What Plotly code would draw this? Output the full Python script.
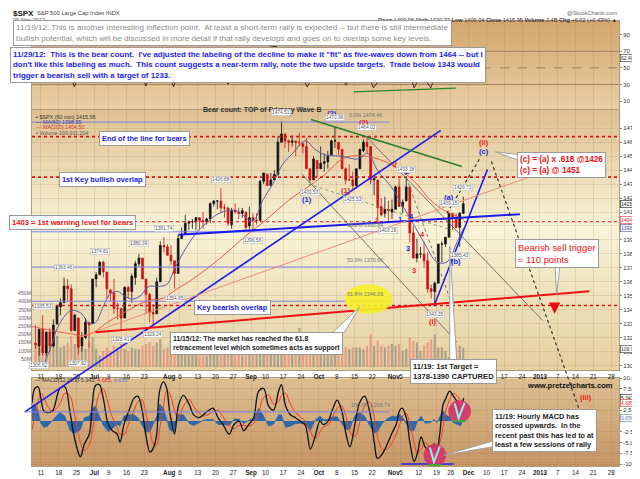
import numpy as np
import pandas as pd
import plotly.graph_objects as go

FONT = "Liberation Sans, Arial, sans-serif"

# trading calendar: the hourly chart only spaces out trading sessions
HOLIDAYS = ["2012-07-04", "2012-09-03", "2012-10-29", "2012-10-30", "2012-11-22"]
SESSIONS = pd.bdate_range("2012-06-01", "2013-02-15", freq="C", holidays=HOLIDAYS)
BASE = SESSIONS.get_loc(pd.Timestamp("2012-06-11"))


def when(d):
    """trading days after 11 Jun 2012 (fractional) -> timestamp"""
    i = int(np.floor(d))
    return SESSIONS[BASE + i] + pd.Timedelta(days=float(d - i))


DAYS = SESSIONS[(SESSIONS >= "2012-06-07") & (SESSIONS <= "2012-11-29")]

# ---- $SPX, one bar per session (Jun 7 .. Nov 29, 2012) ----
OPEN = [1316, 1314, 1326, 1309, 1324, 1314, 1330, 1342, 1345, 1357, 1355, 1325, 1334, 1314, 1320, 1331, 1330,
        1362, 1365, 1374, 1367, 1354, 1352, 1341, 1341, 1334, 1356, 1353, 1363, 1373, 1377, 1362, 1351, 1338, 1337, 1360, 1386, 1385,
        1379, 1375, 1366, 1391, 1394, 1402, 1403, 1403, 1406, 1404, 1403, 1405, 1416, 1418, 1418, 1413, 1413, 1401, 1411, 1410, 1409, 1410, 1400,
        1406, 1404, 1404, 1432, 1437, 1429, 1433, 1437, 1460, 1466, 1461, 1460, 1461, 1460, 1459, 1457, 1441, 1433, 1447,
        1441, 1445, 1446, 1451, 1461, 1460, 1455, 1441, 1433, 1433, 1429, 1441, 1454, 1460, 1457, 1433, 1433, 1414, 1409, 1412, 1410,
        1412, 1428, 1414, 1418, 1428, 1395, 1377, 1380, 1380, 1375, 1355, 1353, 1359, 1387, 1387, 1392, 1409, 1406, 1399, 1409]
HIGH = [1329, 1326, 1336, 1324, 1327, 1333, 1343, 1348, 1363, 1362, 1358, 1337, 1334, 1324, 1334, 1331, 1362,
        1367, 1375, 1375, 1367, 1355, 1362, 1345, 1341, 1357, 1357, 1366, 1375, 1380, 1377, 1362, 1352, 1344, 1363, 1389, 1392, 1387,
        1386, 1375, 1394, 1399, 1408, 1404, 1405, 1406, 1406, 1410, 1406, 1417, 1418, 1418, 1427, 1416, 1413, 1413, 1416, 1413, 1413, 1410, 1414,
        1409, 1409, 1433, 1438, 1438, 1438, 1440, 1464, 1475, 1466, 1462, 1465, 1461, 1467, 1460, 1463, 1441, 1450, 1447,
        1457, 1452, 1454, 1462, 1471, 1460, 1455, 1442, 1444, 1439, 1441, 1455, 1462, 1464, 1457, 1435, 1433, 1420, 1421, 1418, 1419,
        1429, 1434, 1419, 1434, 1428, 1400, 1391, 1385, 1389, 1381, 1358, 1360, 1387, 1389, 1392, 1409, 1409, 1409, 1410, 1421]
LOW = [1312, 1307, 1307, 1307, 1310, 1313, 1329, 1336, 1345, 1346, 1324, 1325, 1308, 1310, 1319, 1313, 1330,
       1356, 1365, 1363, 1348, 1346, 1337, 1333, 1325, 1334, 1348, 1345, 1358, 1371, 1362, 1337, 1331, 1329, 1337, 1360, 1381, 1379,
       1372, 1355, 1366, 1391, 1394, 1397, 1398, 1397, 1397, 1398, 1401, 1402, 1414, 1412, 1409, 1406, 1400, 1398, 1409, 1405, 1406, 1397, 1398,
       1397, 1401, 1404, 1430, 1429, 1429, 1433, 1436, 1460, 1456, 1453, 1457, 1450, 1457, 1452, 1441, 1431, 1433, 1435,
       1441, 1439, 1441, 1451, 1456, 1451, 1441, 1430, 1433, 1426, 1427, 1441, 1453, 1452, 1430, 1422, 1403, 1407, 1406, 1403, 1405,
       1412, 1414, 1409, 1418, 1388, 1377, 1374, 1377, 1370, 1352, 1348, 1343, 1359, 1374, 1385, 1392, 1397, 1398, 1385, 1409]
CLOSE = [1315, 1326, 1309, 1324, 1314, 1329, 1343, 1345, 1357, 1355, 1325, 1336, 1313, 1320, 1331, 1329, 1362,
         1365, 1374, 1367, 1355, 1352, 1341, 1341, 1334, 1356, 1353, 1364, 1373, 1377, 1362, 1351, 1338, 1337, 1360, 1386, 1385, 1379,
         1375, 1366, 1391, 1394, 1402, 1403, 1403, 1406, 1404, 1403, 1405, 1416, 1418, 1418, 1413, 1413, 1402, 1411, 1410, 1409, 1411, 1399, 1406,
         1404, 1404, 1432, 1438, 1429, 1433, 1437, 1460, 1466, 1461, 1460, 1461, 1460, 1460, 1457, 1441, 1433, 1448, 1441,
         1445, 1446, 1450, 1461, 1461, 1455, 1441, 1433, 1433, 1429, 1441, 1455, 1460, 1457, 1433, 1434, 1413, 1408, 1412, 1411, 1412,
         1428, 1414, 1417, 1428, 1395, 1377, 1380, 1380, 1375, 1355, 1353, 1359, 1387, 1387, 1392, 1409, 1406, 1399, 1409, 1416]
VOLUME_M = [140, 120, 130, 120, 140, 150, 190, 120, 130, 150, 190, 140, 130, 120, 110, 150, 180,
            110, 70, 100, 120, 100, 130, 120, 140, 110, 100, 120, 110, 110, 130, 140, 150, 130, 150, 170, 110, 120,
            130, 140, 150, 90, 100, 90, 80, 80, 70, 90, 70, 90, 100, 80, 110, 100, 110, 80, 70, 80, 70, 90, 100,
            110, 110, 150, 130, 110, 110, 120, 180, 190, 110, 120, 130, 110, 240, 100, 140, 130, 120, 130,
            120, 110, 120, 110, 120, 80, 110, 120, 110, 120, 120, 120, 110, 130, 200, 130, 160, 130, 120, 130, 140,
            130, 140, 100, 110, 180, 160, 150, 100, 130, 150, 170, 200, 120, 120, 100, 60, 110, 120, 130, 120]

# moving averages (x = trading days after Jun 11)
MA60_DAY = [-2.5, 0, 2.8, 4.7, 8.3, 11.1, 13.6, 15.3, 17.8, 19.4, 21.4, 23.6, 25.6, 27.8, 30.3, 32.5, 35.3, 37.5,
            40, 43.6, 46.4, 50, 54.7, 59.4, 62.2, 65, 67.8, 70.6, 74.2, 76.9, 79.7, 84.4, 88.9, 91.7, 94.4, 98.3,
            101.1, 103.9, 107.5, 111.1, 113.9, 116.7, 118.6]
MA60 = [1302, 1299.3, 1313.3, 1327.3, 1339.2, 1337.8, 1330.1, 1330.8, 1344.1, 1351.1, 1353.2, 1349.7, 1347.6, 1349.7,
        1356.7, 1356.7, 1358.1, 1369.3, 1381.2, 1395.1, 1402.1, 1409.1, 1411.2, 1403.5, 1418.2, 1430.0, 1444.1,
        1452.0, 1461.0, 1455.0, 1451.0, 1450.0, 1448.0, 1452.0, 1440.0, 1428.0, 1416.1, 1404.2, 1388.1, 1374.2,
        1374.2, 1388.1, 1398.55]
MA200_DAY = [-2.5, 0, 7.5, 13.1, 18.6, 24.2, 29.7, 34.4, 37.2, 42.8, 50, 57.5, 63.1, 69.4, 76.1, 79.7, 85.3, 91.7,
             98.3, 104.7, 109.4, 113.1, 116.7, 118.6]
MA200 = [1328, 1326.6, 1323.1, 1321.7, 1330.8, 1339.2, 1346.2, 1348.3, 1353.2, 1362.3, 1376.3, 1393.0, 1404.2,
         1418.2, 1430.1, 1437.1, 1449.0, 1449.7, 1444.1, 1432.2, 1418.2, 1411.2, 1407.0, 1404.5]

# RSI (top panel, mostly hidden by the notes)
RSI_DAY = [-2.5, 2, 6, 9.4, 11.5, 15, 19, 24, 27, 29.4, 31.5, 34, 37.2, 39.5, 44, 49, 52.5, 55, 60, 66, 71, 74.7,
           77, 81, 85.6, 87.5, 90, 93.3, 95.5, 99, 102, 104.7, 106.5, 108, 109.4, 111.5, 113, 115, 117, 118.6]
RSI = [48, 62, 66, 27, 50, 70, 50, 62, 66, 28, 48, 68, 27, 58, 62, 66, 30, 52, 72, 76, 58, 27,
       45, 66, 29, 46, 62, 26, 38, 55, 62, 26, 40, 34, 26, 50, 72, 70, 50, 62.4]

# MACD(12,26,9) hourly
MACD_DAY = [-2.5, -1.7, -0.8, 0, 0.8, 1.9, 3.3, 5.3, 6.7, 8.1, 9.2, 10.3, 11.1, 12.2, 13.6, 14.4, 15.3, 16.4, 17.5,
            18.9, 20, 21.4, 22.2, 23.3, 24.7, 26.1, 27.2, 28.3, 29.4, 30.6, 31.7, 32.5, 33.3, 34.4, 35.3, 36.1, 37.5,
            38.6, 40, 41.7, 42.8, 44.2, 45.6, 46.9, 48.3, 49.7, 51.1, 52.8, 54.2, 55.6, 56.9, 58.3, 59.7, 61.1, 62.5,
            63.9, 65.3, 66.7, 67.5, 68.6, 70, 71.4, 72.8, 74.2, 75.6, 76.9, 78.3, 79.2, 80.6, 81.7, 83.1, 84.4, 85.6,
            86.7, 88.1, 89.4, 90.8, 92.2, 93.6, 94.4, 95.8, 97.2, 98.6, 99.7, 100.6, 101.4, 102.5, 103.6, 104.7, 105.6,
            106.7, 107.8, 109.2, 110.3, 111.1, 111.9, 112.8, 113.6, 114.7, 115.6, 116.7, 117.8, 118.6]
MACD = [4.2, 7.6, 8.0, 5.3, 2.4, 2.0, 2.4, 7.6, 8.0, 2.4, -3.0, -6.8, -8.3, -5.3, -3.0, 3.7, 8.3, 8.5, 5.3,
        -0.8, -2.2, -3.0, -4.9, -0.8, 2.4, 5.3, 5.8, 3.0, -3.0, -7.2, -6.0, -3.0, 7.0, 9.2, 7.6, 2.4, -3.0,
        3.7, 6.0, 3.7, 1.5, 0.8, 1.5, 2.4, 3.0, 0.8, -0.8, -3.0, -0.8, 0.0, -2.2, -0.8, 0.8, 7.0, 7.6,
        3.5, 2.6, 7.0, 8.5, 3.7, 1.5, 0.8, 0.0, -1.0, -6.5, -3.7, 0.0, -0.8, 0.0, 2.4, 4.9, 2.4, -3.0,
        -6.0, -0.8, 4.2, 5.8, 2.4, -5.3, -8.7, -7.6, -5.3, -2.6, -0.8, 2.4, 3.0, 0.8, -5.3, -9.4, -7.6,
        -3.7, -6.0, -6.8, -5.3, -6.8, -3.0, 3.7, 5.3, 7.0, 6.0, 4.6, 2.6, 5.341]
SIGNAL = [-2.0, 1.0, 4.5, 6.5, 5.5, 3.5, 2.3, 4.0, 6.5, 6.0, 2.5, -2.0, -5.0, -6.8, -5.5, -2.5, 2.5, 6.5, 7.5,
          4.0, 1.0, -1.5, -3.0, -3.2, -0.5, 2.5, 4.5, 5.0, 2.0, -2.5, -5.5, -5.5, -2.0, 3.5, 7.0, 6.5, 2.5,
          0.5, 3.5, 5.0, 3.5, 2.0, 1.2, 1.5, 2.2, 2.5, 1.0, -1.0, -1.8, -1.0, -1.0, -1.2, -0.5, 2.0, 5.5,
          6.0, 4.0, 4.5, 6.0, 6.5, 4.0, 2.0, 1.0, 0.0, -2.5, -4.0, -2.5, -1.5, -0.8, 0.5, 3.0, 3.5, 1.0,
          -2.5, -3.5, -0.5, 3.5, 4.5, 0.5, -3.5, -6.5, -6.5, -5.0, -3.0, -1.0, 1.0, 1.8, -1.0, -5.0, -7.5,
          -6.5, -5.0, -6.0, -6.2, -6.0, -5.0, -1.5, 2.5, 5.0, 6.5, 6.0, 4.8, 4.685]
HIST = [3.5, 4.0, 2.5, -0.5, -1.5, -1.2, 0.2, 2.0, 1.2, -2.0, -3.0, -2.5, -2.0, 0.8, 1.2, 3.0, 3.5, 1.2, -1.0,
        -2.5, -1.8, -0.8, -1.2, 1.2, 1.5, 1.5, 0.8, -1.0, -2.5, -2.5, -0.3, 1.2, 4.0, 3.0, 0.5, -2.0, -2.5,
        1.5, 1.5, -0.6, -1.0, -0.5, 0.2, 0.4, 0.4, -0.8, -0.8, -1.0, 0.5, 0.5, -0.6, 0.2, 0.6, 3.0, 1.2,
        -1.2, -0.7, 1.5, 1.5, -1.5, -1.2, -0.6, -0.5, -0.6, -2.2, 0.2, 1.2, 0.4, 0.4, 1.0, 1.0, -0.5, -2.0,
        -1.8, 1.3, 2.0, 1.2, -1.0, -2.8, -2.5, -0.5, 0.6, 1.2, 1.0, 1.6, 1.0, -0.5, -2.2, -2.2, -0.1,
        1.2, -0.5, -0.4, 0.4, -0.4, 1.0, 2.5, 1.4, 1.0, -0.3, -0.7, -1.1, 0.656]

# bottom axis labels
TICK_DATES = ["2012-06-11", "2012-06-18", "2012-06-25", "2012-07-02", "2012-07-09", "2012-07-16", "2012-07-23",
              "2012-08-01", "2012-08-06", "2012-08-13", "2012-08-20", "2012-08-27", "2012-09-04", "2012-09-10",
              "2012-09-17", "2012-09-24", "2012-10-01", "2012-10-08", "2012-10-15", "2012-10-22", "2012-11-01",
              "2012-11-05", "2012-11-12", "2012-11-19", "2012-11-26", "2012-12-03", "2012-12-10", "2012-12-17",
              "2012-12-24", "2012-12-31", "2013-01-07", "2013-01-14", "2013-01-21", "2013-01-28"]
TICK_TEXT = ["11", "18", "25", "<b>Jul</b>", "9", "16", "23", "<b>Aug</b>", "6", "13", "20", "27", "<b>Sep</b>",
             "10", "17", "24", "<b>Oct</b>", "8", "15", "22", "<b>Nov</b>", "5", "12", "19", "26", "<b>Dec</b>",
             "10", "17", "24", "<b>2013</b>", "7", "14", "21", "28"]

# analyst levels / trendlines  ((day, price), (day, price))
RED_LEVELS = [1464, 1435, 1403, 1343]
FIB_LEVELS = [1474.46, 1395.84, 1370.60, 1346.09, 1266.74]
FIB_TEXT = ["0.0% 1474.46", "38.2% 1395.84", "50.0% 1370.60", "61.8% 1346.09", "100.0% 1266.74"]
TRENDS = [((-4.5, 1266.7), (112.2, 1468.6), "#1b1bf0", 1.6, "solid"),
          ((38.6, 1393.7), (134.4, 1408.4), "#1b1bf0", 2.0, "solid"),
          ((110.3, 1342.7), (125.3, 1440.6), "#1b1bf0", 1.5, "solid"),
          ((75.8, 1476.3), (118.1, 1442.7), "#2a7a2a", 1.5, "solid"),
          ((91.7, 1463.0), (140.8, 1332.2), "#555", 0.8, "solid"),
          ((73.3, 1437.1), (116.7, 1316.8), "#555", 0.8, "solid"),
          ((101.4, 1442.7), (115.0, 1346.2), "#555", 0.8, "dot"),
          ((75.0, 1430.1), (115.0, 1397.2), "#6f9a50", 0.9, "dot"),
          ((113.9, 1409.1), (123.3, 1449.0), "#222", 1.1, "dot"),
          ((126.4, 1446.2), (151.9, 1262.2), "#222", 1.1, "dot"),
          ((10.8, 1320.3), (140.8, 1438.5), "#f08a78", 1.0, "solid"),
          ((15.3, 1323.8), (153.9, 1353.2), "#ee1111", 2.0, "solid")]

BLUE_WAVES = [("(1)", 74.7, 1418.9), ("(2)", 81.7, 1480.5), ("1", 100.8, 1404.9), ("2", 102.8, 1439.2),
              ("3", 103.1, 1384.0), ("4", 103.9, 1407.0), ("(a)", 114.4, 1420.3), ("(b)", 116.4, 1374.9),
              ("(c)", 124.4, 1453.2)]
RED_WAVES = [("(2)", 90.6, 1474.2), ("(1)", 85.6, 1425.2), ("1", 94.2, 1404.2), ("2", 99.4, 1444.1),
             ("3", 104.7, 1367.9), ("4", 107.2, 1393.7), ("(ii)", 124.4, 1459.5), ("(i)", 110.0, 1331.5)]
PIVOTS = [("2012-06-08", 1306.62, -1), ("2012-06-11", 1335.52, 1), ("2012-06-19", 1363.46, 1),
          ("2012-06-25", 1307.92, -1), ("2012-07-03", 1374.81, 1), ("2012-07-12", 1325.41, -1),
          ("2012-07-19", 1380.39, 1), ("2012-07-25", 1329.24, -1), ("2012-07-30", 1391.74, 1),
          ("2012-08-02", 1354.65, -1), ("2012-08-21", 1426.68, 1), ("2012-09-04", 1396.56, -1),
          ("2012-09-14", 1474.51, 1), ("2012-09-26", 1430.53, -1), ("2012-10-05", 1470.96, 1),
          ("2012-10-12", 1425.53, -1), ("2012-10-18", 1464.02, 1), ("2012-10-26", 1403.28, -1),
          ("2012-11-06", 1433.38, 1), ("2012-11-16", 1343.35, -1), ("2012-11-23", 1409.15, 1),
          ("2012-11-28", 1385.43, -1), ("2012-11-29", 1420.73, 1)]

# ---------------- geometry ----------------
W, H = 640, 479
ML, MR, MT, MB = 24, 23, 13, 10


def fx(px):
    return (px - ML) / (W - ML - MR)


def fy(py):
    return (H - MB - py) / (H - MT - MB)


RSI_DOM = [fy(103), 1.0]
PRICE_DOM = [fy(371), fy(104)]
MACD_DOM = [0.0, fy(379)]
P0, P1 = 1300 - 5 / 1.4294, 1470 + 19 / 1.4294
R0, R1 = 10 - 8 / 0.85, 90 + 14 / 0.85
M0, M1 = -10.45, 10.0
D0, D1 = -2.5, 162.2


def xd(d):
    return (d - D0) / (D1 - D0)


def yp(p):
    return PRICE_DOM[0] + (p - P0) / (P1 - P0) * (PRICE_DOM[1] - PRICE_DOM[0])


xc = DAYS + pd.Timedelta(hours=12)
up = [c >= o for o, c in zip(OPEN, CLOSE)]

fig = go.Figure()
fig.add_trace(go.Bar(x=xc, y=VOLUME_M, xaxis="x2", yaxis="y2", width=0.6 * 86400000,
                     marker=dict(color=["rgba(110,110,110,0.5)" if u else "rgba(225,110,110,0.55)" for u in up],
                                 line_width=0), hoverinfo="skip"))
fig.add_trace(go.Scatter(x=[when(d) for d in MA200_DAY], y=MA200, xaxis="x2", yaxis="y3", mode="lines",
                         line=dict(color="#e85a4a", width=1, shape="spline"), hoverinfo="skip"))
fig.add_trace(go.Scatter(x=[when(d) for d in MA60_DAY], y=MA60, xaxis="x2", yaxis="y3", mode="lines",
                         line=dict(color="#5a5aa8", width=1, shape="spline"), hoverinfo="skip"))
fig.add_trace(go.Candlestick(x=xc, open=OPEN, high=HIGH, low=LOW, close=CLOSE, xaxis="x2", yaxis="y3",
                             increasing=dict(line=dict(color="#111", width=0.8), fillcolor="#111"),
                             decreasing=dict(line=dict(color="#d01010", width=0.8), fillcolor="#d01010"),
                             whiskerwidth=0, hoverinfo="skip"))
for lv in RED_LEVELS:
    fig.add_trace(go.Scatter(x=[when(D0), when(D1)], y=[lv, lv], xaxis="x2", yaxis="y3", mode="lines",
                             line=dict(color="#e81010", width=1.1 if lv == 1403 else 1.7, dash="dot"),
                             hoverinfo="skip"))
for lv in FIB_LEVELS[:4]:
    fig.add_trace(go.Scatter(x=[when(D0), when(97.8)], y=[lv, lv], xaxis="x2", yaxis="y3", mode="lines",
                             line=dict(color="#8080ee", width=1), hoverinfo="skip"))

# RSI panel
for lv, dash in ((70, "solid"), (50, "dash"), (30, "solid")):
    fig.add_trace(go.Scatter(x=[when(D0), when(D1)], y=[lv, lv], xaxis="x3", yaxis="y4", mode="lines",
                             line=dict(color="#9a8060", width=1, dash=dash), hoverinfo="skip"))
fig.add_trace(go.Scatter(x=[when(d) for d in RSI_DAY], y=RSI, xaxis="x3", yaxis="y4", mode="lines",
                         line=dict(color="#3a2a20", width=1), hoverinfo="skip"))
fig.add_trace(go.Scatter(x=[when(87.8), when(116.4)], y=[21.0, 25.5], xaxis="x3", yaxis="y4", mode="lines",
                         line=dict(color="#2a8a2a", width=1.3), hoverinfo="skip"))

# MACD panel
mx = [when(d) for d in MACD_DAY]
fig.add_trace(go.Scatter(x=mx, y=HIST, xaxis="x", yaxis="y", mode="lines", fill="tozeroy",
                         fillcolor="#2c68ad", line=dict(color="#2c68ad", width=0.6), hoverinfo="skip"))
fig.add_trace(go.Scatter(x=mx, y=SIGNAL, xaxis="x", yaxis="y", mode="lines",
                         line=dict(color="#f03a2a", width=1, shape="spline"), hoverinfo="skip"))
fig.add_trace(go.Scatter(x=mx, y=MACD, xaxis="x", yaxis="y", mode="lines",
                         line=dict(color="#111", width=1.3, shape="spline"), hoverinfo="skip"))
fig.add_trace(go.Scatter(x=[when(101.1), when(115.8)], y=[-10, -10], xaxis="x", yaxis="y", mode="lines",
                         line=dict(color="#2222ee", width=1.5), hoverinfo="skip"))

# ---------------- shapes ----------------
shapes = []


def mix(stops, t):
    for (t0, c0), (t1, c1) in zip(stops[:-1], stops[1:]):
        if t <= t1:
            u = (t - t0) / (t1 - t0)
            a = [int(c0[i:i + 2], 16) for i in (1, 3, 5)]
            b = [int(c1[i:i + 2], 16) for i in (1, 3, 5)]
            return "rgb(%d,%d,%d)" % tuple(round(a[k] + (b[k] - a[k]) * u) for k in range(3))
    return stops[-1][1]


def bands(top, bot, stops, n=30):
    for k in range(n):
        y0 = top + (bot - top) * k / n
        y1 = top + (bot - top) * (k + 1) / n + 0.6
        shapes.append(dict(type="rect", xref="paper", yref="paper", x0=0, x1=1, y0=fy(y1), y1=fy(y0),
                           fillcolor=mix(stops, (k + 0.5) / n), line_width=0, layer="below"))


bands(13, 103, [(0, "#d4a66e"), (1, "#e7cea2")])
bands(104, 371, [(0, "#dec08f"), (0.45, "#f8f3d8"), (1, "#e6cfa0")])
bands(379, 469, [(0, "#ddbf92"), (1, "#c69564")])

for (d0, p0), (d1, p1), col, wd, dash in TRENDS:
    shapes.append(dict(type="line", xref="paper", yref="paper", x0=xd(d0), y0=yp(p0), x1=xd(d1), y1=yp(p1),
                       line=dict(color=col, width=wd, dash=dash), layer="above"))
shapes.append(dict(type="line", xref="paper", yref="paper", x0=xd(-4.5), x1=xd(97.8),
                   y0=yp(FIB_LEVELS[4]), y1=yp(FIB_LEVELS[4]), line=dict(color="#8080ee", width=1)))

# 61.8% highlight, MACD circles
shapes.append(dict(type="circle", xref="paper", yref="paper", x0=fx(340), x1=fx(388), y0=fy(313), y1=fy(283),
                   fillcolor="rgba(245,240,40,0.9)", line_width=0, layer="above"))
for cx, cy in ((456, 413), (431, 458)):
    shapes.append(dict(type="circle", xref="paper", yref="paper", x0=fx(cx - 11.5), x1=fx(cx + 11.5),
                       y0=fy(cy + 11.5), y1=fy(cy - 11.5), fillcolor="rgba(214,52,104,0.92)", line_width=0,
                       layer="above"))
    shapes.append(dict(type="path", xref="paper", yref="paper",
                       path="M %f,%f L %f,%f L %f,%f" % (fx(cx - 5), fy(cy - 8), fx(cx - 1), fy(cy + 7),
                                                        fx(cx + 5), fy(cy - 9)),
                       line=dict(color="#8ef0f0", width=2), layer="above"))
    shapes.append(dict(type="line", xref="paper", yref="paper", x0=fx(cx - 6), x1=fx(cx + 6),
                       y0=fy(cy + 10), y1=fy(cy + 10), line=dict(color="#30b030", width=2), layer="above"))


def wedge(a, b, tip):
    shapes.append(dict(type="path", xref="paper", yref="paper",
                       path="M %f,%f L %f,%f L %f,%f Z" % (fx(a[0]), fy(a[1]), fx(tip[0]), fy(tip[1]),
                                                          fx(b[0]), fy(b[1])),
                       fillcolor="white", line=dict(color="#a0a0a0", width=1), layer="above"))


wedge((327, 333), (339, 333), (355, 306))
wedge((446, 360), (453, 360), (446, 244))
wedge((516, 150), (516, 156), (492, 147))
wedge((552, 258), (558, 258), (554, 293))
wedge((491, 443), (491, 449), (440, 458))

# ---------------- annotations ----------------
ann = []


def note(text, x, y, color="#111", size=7.4, bold=True, box=True, xa="left", ya="top", pad=2):
    ann.append(dict(text="<b>%s</b>" % text if bold else text, x=fx(x), y=fy(y), xref="paper", yref="paper",
                    xanchor=xa, yanchor=ya, align="left", showarrow=False,
                    font=dict(family=FONT, size=size, color=color),
                    bgcolor="white" if box else None, bordercolor="#9a9a9a" if box else None,
                    borderwidth=1 if box else 0, borderpad=pad))


note("$SPX", 3, 5, size=8, box=False, ya="middle")
note("S&amp;P 500 Large Cap Index INDX", 27, 5, color="#444", size=5.8, bold=False, box=False, ya="middle")
note("29-Nov-2012", 3, 12, color="#444", size=5.5, bold=False, box=False, ya="middle")
note("@StockCharts.com", 617, 5, color="#666", size=5.8, bold=False, box=False, xa="right", ya="middle")
note("<b>Open</b> 1409.96 <b>High</b> 1420.73 <b>Low</b> 1409.04 <b>Close</b> 1415.95 <b>Volume</b> 2.4B "
     "<b>Chg</b> +6.02 (+0.43%) ▲", 617, 12, color="#333", size=5.6, bold=False, box=False, xa="right",
     ya="middle")

note("11/19/12: This is another interesting inflection point.  At least a short-term rally is expected -- "
     "but there is still intermediate<br>bullish potential, which will be discussed in more detail if that rally "
     "develops and goes on to overlap some key levels.", 5, 12, color="#8a8a8a", size=8.1, bold=False)
note("11/29/12:  This is the bear count.  I've adjusted the labeling of the decline to make it \"fit\" as "
     "five-waves down from 1464 -- but I<br>don't like this labeling as much.  This count suggests a near-term "
     "rally, note the two upside targets.  Trade below 1343 would<br>trigger a bearish sell with a target of "
     "1233.", 2, 40, color="#1c1cf4", size=7.9, bold=True)

note("Bear count: TOP of Primary Wave B", 257, 104, color="#333", size=7, box=False, xa="center", ya="middle")
note("▪ $SPX (60 min) 1415.95", 26, 111, color="#333", size=5.4, bold=False, box=False, ya="middle")
note("— MA(60) 1398.55", 26, 116.5, color="#3c3ca0", size=5.4, bold=False, box=False, ya="middle")
note("— MA(200) 1404.50", 26, 122, color="#e03030", size=5.4, bold=False, box=False, ya="middle")
note("▪ Volume 109,911,204", 26, 127.5, color="#555", size=5.4, bold=False, box=False, ya="middle")

note("End of the line for bears", 92, 126, color="#2020e0")
note("1st Key bullish overlap", 51, 168, color="#2020e0")
note("1403 = 1st warning level for bears", 1, 212, color="#ee1111", size=7.6)
note("Key bearish overlap", 188, 299, color="#2020e0")
note("11/15/12: The market has reached the 61.8<br>retracement level which sometimes acts as support", 163, 332,
     color="#222", size=6.8)
note("11/19: 1st Target =<br>1378-1390 CAPTURED", 406, 359, color="#222", size=7.6)
note("(c) = (a) x .618 @1426<br>(c) = (a) @ 1451", 514, 147, color="#ee1111", size=8.2)
note("Bearish sell trigger<br>= 110 points", 512, 236, color="#ee1111", size=9.4, bold=False)
note("11/19: Hourly MACD has<br>crossed upwards.  In the<br>recent past this has led to at<br>least a few "
     "sessions of rally", 489, 411, color="#222", size=7.3)
note("www.pretzelcharts.com", 567, 387, color="#111", size=7.6, box=False, xa="center", ya="middle")
note("— MACD(12,26,9) 5.341, <span style='color:#e03030'>4.685</span>, "
     "<span style='color:#5a80c0'>0.656</span>", 25, 381, color="#333", size=5.4, bold=False, box=False,
     ya="middle")

for i, t in enumerate(FIB_TEXT[:4]):
    ann.append(dict(text=t, x=when(91), y=FIB_LEVELS[i], xref="x2", yref="y3", showarrow=False, yshift=2,
                    xanchor="center", yanchor="bottom", font=dict(family=FONT, size=5.4, color="#777")))
ann.append(dict(text=FIB_TEXT[4], x=fx(366), y=fy(412), xref="paper", yref="paper", showarrow=False,
                xanchor="center", yanchor="bottom", font=dict(family=FONT, size=5.4, color="#777")))

for txt, d, p in BLUE_WAVES:
    ann.append(dict(text="<b>%s</b>" % txt, x=when(d), y=p, xref="x2", yref="y3", showarrow=False,
                    font=dict(family=FONT, size=7.5, color="#2424e8")))
for txt, d, p in RED_WAVES:
    ann.append(dict(text="<b>%s</b>" % txt, x=when(d), y=p, xref="x2", yref="y3", showarrow=False,
                    font=dict(family=FONT, size=7.5, color="#ee2020")))
ann.append(dict(text="<b>(iii)</b>", x=when(152.8), y=5.45, xref="x", yref="y", showarrow=False,
                font=dict(family=FONT, size=7.5, color="#ee2020")))

for ds, p, side in PIVOTS:
    ann.append(dict(text=f"{p:.2f}", x=pd.Timestamp(ds) + pd.Timedelta(hours=12), y=p, xref="x2", yref="y3",
                    showarrow=False, yshift=6 * side, yanchor="bottom" if side > 0 else "top",
                    font=dict(family=FONT, size=4.8, color="#555"), bgcolor="white", bordercolor="#aaa",
                    borderwidth=0.5, borderpad=0.5))

ann.append(dict(text="", x=fx(552), y=fy(313), xref="paper", yref="paper", ax=0, ay=-11, showarrow=True,
                arrowhead=2, arrowsize=0.9, arrowwidth=2.5, arrowcolor="#e81010"))

# value tags on the right axis
for txt, yv, yr, col in (("1415.95", 1415.95, "y3", "#111"), ("1404.50", 1404.5, "y3", "#e03030"),
                         ("1398.55", 1398.55, "y3", "#4a4aa0"), ("62.40", 62.4, "y4", "#333"),
                         ("5.341", 5.341, "y", "#111"), ("4.685", 4.2, "y", "#e03030"),
                         ("0.656", 0.656, "y", "#5a80c0"), ("109,911", 109.9, "y2", "#333")):
    ann.append(dict(text=txt, x=1.0, y=yv, xref="paper", yref=yr, xanchor="left", showarrow=False, xshift=1,
                    font=dict(family=FONT, size=5.0, color=col), bgcolor="white", bordercolor=col,
                    borderwidth=0.6, borderpad=0.4))

GRID = "rgba(140,105,60,0.15)"
AXL = "#b09a78"
xbase = dict(type="date", range=[when(D0), when(D1)],
             rangebreaks=[dict(bounds=["sat", "mon"]), dict(values=HOLIDAYS)],
             tickvals=TICK_DATES, ticktext=TICK_TEXT, tickangle=0, showgrid=True, gridcolor=GRID,
             ticks="", tickfont=dict(family=FONT, size=6.3, color="#222"), showline=True, linecolor=AXL,
             mirror=True, zeroline=False)
ybase = dict(side="right", showline=True, linecolor=AXL, mirror=True, zeroline=False, ticks="outside",
             ticklen=2, tickcolor="#888", tickfont=dict(family=FONT, size=6, color="#333"))

fig.update_layout(
    width=W, height=H, margin=dict(l=ML, r=MR, t=MT, b=MB), paper_bgcolor="white",
    plot_bgcolor="rgba(0,0,0,0)", showlegend=False, font=dict(family=FONT, size=7),
    xaxis=dict(xbase, anchor="y"),
    xaxis2=dict(xbase, anchor="y2", matches="x", rangeslider=dict(visible=False)),
    xaxis3=dict(xbase, anchor="y4", matches="x", showticklabels=False),
    yaxis=dict(ybase, domain=MACD_DOM, range=[M0, M1], showgrid=True, gridcolor=GRID,
               tickvals=[-10, -7.5, -5, -2.5, 2.5, 5, 7.5, 10],
               ticktext=["-10.0", "-7.5", "-5.0", "-2.5", "2.5", "5.0", "7.5", "10.0"]),
    yaxis2=dict(domain=PRICE_DOM, range=[-20, 1569], side="left", anchor="x2", showgrid=False,
                zeroline=False, tickvals=[50, 100, 150, 200, 250, 300, 350, 400, 450],
                ticktext=["50M", "100M", "150M", "200M", "250M", "300M", "350M", "400M", "450M"],
                tickfont=dict(family=FONT, size=5.2, color="#666"), ticks=""),
    yaxis3=dict(ybase, overlaying="y2", anchor="x2", range=[P0, P1], showgrid=True, gridcolor=GRID,
                tickvals=list(range(1300, 1471, 10))),
    yaxis4=dict(ybase, domain=RSI_DOM, range=[R0, R1], showgrid=False, tickvals=[10, 30, 50, 70, 90]),
    shapes=shapes, annotations=ann,
)

fig.write_html("out.html")
